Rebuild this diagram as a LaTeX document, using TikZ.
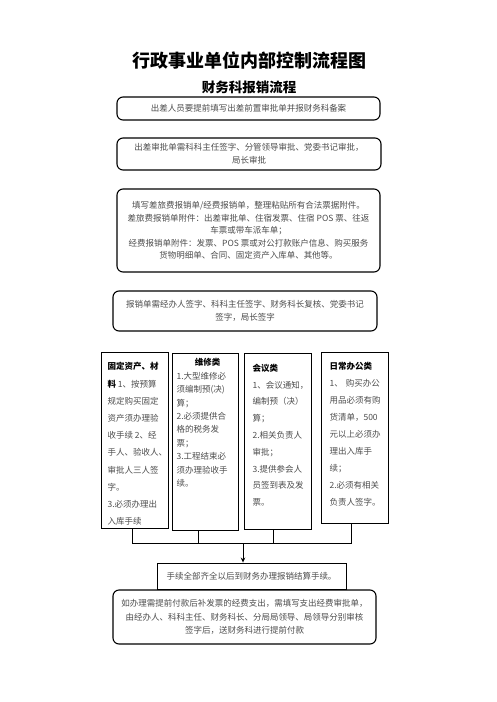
\documentclass[tikz,border=0pt]{standalone}
\usepackage{fontspec}
\newfontfamily\cjkfont{Noto Sans CJK SC}
\usetikzlibrary{arrows.meta}

\begin{document}
\begin{tikzpicture}[
    x=1pt, y=-1pt,
    font=\cjkfont\fontsize{8.5}{13}\selectfont,
    block/.style={
        draw,
        line width=1.1pt,
        rounded corners=6pt,
        inner sep=0pt,
        align=center,
        text=black!70
    },
    plainbox/.style={draw, line width=0.9pt, inner sep=0pt, align=center, text=black!70},
    col/.style={draw, line width=1.1pt, inner sep=0pt, anchor=north west, text=black!70},
    hd/.style={font=\cjkfont\bfseries\fontsize{18}{20}\selectfont},
    subhd/.style={font=\cjkfont\bfseries\fontsize{13.5}{15}\selectfont},
    link/.style={line width=0.9pt},
    arrow/.style={-{Stealth[length=5pt,width=4.5pt]}, line width=0.9pt}
]
\useasboundingbox (0,0) rectangle (496,702);

% ============================================================
% TITLES
% ============================================================
\node[hd]    (title) at (249,61) {行政事业单位内部控制流程图};
\node[subhd] (sub)   at (249,87) {财务科报销流程};

% ============================================================
% TOP BOXES
% ============================================================
\node[block, minimum width=263pt, minimum height=23pt] (plan) at (248.5,108.5)
    {出差人员要提前填写出差前置审批单并报财务科备案};
\node[block, minimum width=264pt, minimum height=32pt] (trip) at (249,154)
    {出差审批单需科科主任签字、分管领导审批、党委书记审批，\\局长审批};
\node[block, minimum width=263pt, minimum height=83pt,
      font=\cjkfont\fontsize{8.5}{12.5}\selectfont] (fill) at (248.5,230.5)
    {填写差旅费报销单/经费报销单，整理粘贴所有合法票据附件。\\
     差旅费报销单附件：出差审批单、住宿发票、住宿 POS 票、往返\\
     车票或带车派车单；\\
     经费报销单附件：发票、POS 票或对公打款账户信息、购买服务\\
     货物明细单、合同、固定资产入库单、其他等。};
\node[block, minimum width=264pt, minimum height=40pt] (sign) at (245,311)
    {报销单需经办人签字、科科主任签字、财务科长复核、党委书记\\签字，局长签字};

% ============================================================
% CATEGORY COLUMNS
% ============================================================
\node[col] (colA) at (101,352) {\parbox[t][176pt][t]{67pt}{\raggedright\leftskip=6pt
    \fontsize{8.5}{17.2}\selectfont\vspace*{10pt}
    {\color{black}\bfseries 固定资产、材}\\
    {\color{black}\bfseries 料}~1、按预算\\
    规定购买固定\\
    资产须办理验\\
    收手续~2、经\\
    手人、验收人、\\
    审批人三人签\\
    字。\\
    3.必须办理出\\
    入库手续}};
\node[col] (colB) at (172,353) {\parbox[t][177pt][t]{66pt}{\raggedright\leftskip=4pt
    \fontsize{8.5}{13.4}\selectfont\vspace*{5pt}
    \hspace*{\fill}{\color{black}\bfseries 维修类}\hspace*{\fill}\mbox{}\\
    1.大型维修必\\
    须编制预(决)\\
    算；\\
    2.必须提供合\\
    格的税务发\\
    票；\\
    3.工程结束必\\
    须办理验收手\\
    续。}};
\node[col] (colC) at (244,353) {\parbox[t][176pt][t]{67pt}{\raggedright\leftskip=8pt
    \fontsize{8.5}{16.8}\selectfont\vspace*{10.5pt}
    {\color{black}\bfseries 会议类}\\
    1、会议通知，\\
    编制预（决）\\
    算；\\
    2.相关负责人\\
    审批；\\
    3.提供参会人\\
    员签到表及发\\
    票。}};
\node[col] (colD) at (321,352) {\parbox[t][171pt][t]{67pt}{\raggedright\leftskip=8pt
    \fontsize{8.5}{17}\selectfont\vspace*{9.5pt}
    {\color{black}\bfseries 日常办公类}\\
    1、\hspace{3pt}购买办公\\
    用品必须有购\\
    货清单，500\\
    元以上必须办\\
    理出入库手\\
    续；\\
    2.必须有相关\\
    负责人签字。}};

% ============================================================
% BOTTOM BOXES
% ============================================================
\node[plainbox, minimum width=189pt, minimum height=26pt] (sum) at (251.5,576)
    {手续全部齐全以后到财务办理报销结算手续。};
\node[block, minimum width=263pt, minimum height=54pt,
      font=\cjkfont\fontsize{8.5}{13.5}\selectfont] (pre) at (244.5,617)
    {如办理需提前付款后补发票的经费支出，需填写支出经费审批单，\\
     由经办人、科科主任、财务科长、分局局领导、局领导分别审核\\
     签字后，送财务科进行提前付款};

% ============================================================
% CONNECTORS
% ============================================================
\coordinate (bus) at (243,543);
\draw[link] ([xshift=-2.5pt]colA.south) |- ([xshift=-3.5pt]colD.south |- bus)
    -- ([xshift=-3.5pt]colD.south);
\draw[link] ([xshift=-7pt]colB.south) -- ([xshift=-7pt]colB.south |- bus);
\draw[link] ([xshift=-4.5pt]colC.south) -- ([xshift=-4.5pt]colC.south |- bus);
\draw[arrow] (bus) -- (bus |- sum.north);

\end{tikzpicture}
\end{document}
